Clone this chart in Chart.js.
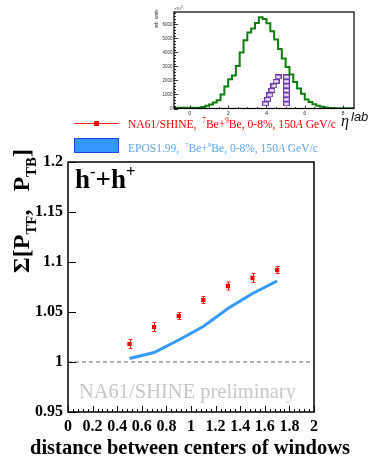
<!DOCTYPE html>
<html>
<head>
<meta charset="utf-8">
<script src="https://cdn.jsdelivr.net/npm/chart.js@4.4.1/dist/chart.umd.min.js"></script>
<style>
  html, body { margin: 0; padding: 0; background: #fff; }
  #wrap { position: relative; width: 370px; height: 457px; }
  #mainChart { position: absolute; left: 0; top: 0; }
  #etaChart { position: absolute; left: 150px; top: 0; }
</style>
</head>
<body>
<div id="wrap">
  <canvas id="mainChart" width="370" height="457"></canvas>
  <canvas id="etaChart" width="220" height="125"></canvas>
</div>
<script>
// main plot: distance between window centres vs Sigma
const windowDistance = [0.5, 0.7, 0.9, 1.1, 1.3, 1.5, 1.7];
const na61Sigma = [1.018, 1.035, 1.046, 1.062, 1.076, 1.084, 1.092];
const na61Error = [0.0045, 0.0045, 0.0035, 0.0035, 0.004, 0.0045, 0.0035];
const eposSigma = [1.0035, 1.0095, 1.022, 1.0355, 1.0535, 1.0685, 1.081];
const referenceLevel = 1;

// inset: eta_lab distribution (bin edges, counts) and window positions
const etaEdges = [-0.8, 0.6, 0.8, 1.0, 1.2, 1.4, 1.6, 1.8, 2.0, 2.2, 2.4, 2.6, 2.8, 3.0, 3.2, 3.4, 3.6, 3.8,
  4.0, 4.2, 4.4, 4.6, 4.8, 5.0, 5.2, 5.4, 5.6, 5.8, 6.0, 6.2, 6.4, 6.6, 6.8, 7.0, 7.2, 7.4, 7.6, 8.6];
const etaCounts = [10, 60, 100, 190, 280, 430, 590, 1000, 1560, 2080, 2360, 3030, 4000, 4870, 5410, 5700, 6100,
  6500, 6380, 6080, 5500, 4920, 4250, 3560, 2960, 2420, 1890, 1420, 1060, 640, 470, 300, 190, 120, 70, 40, 20];
const etaTicks = [0, 2, 4, 6, 8];
const countTicks = [0, 1000, 2000, 3000, 4000, 5000, 6000];
const windowLowEta = [3.95, 4.06, 4.17, 4.28, 4.39, 4.50, 4.61];
const windowHighEta = [5.04, 5.04, 5.04, 5.04, 5.04, 5.04, 5.04];
const windowLevel = [330, 650, 970, 1290, 1610, 1930, 2250];

const SERIF = '"Liberation Serif", "DejaVu Serif", serif';
const SANS = '"Liberation Sans", Arial, sans-serif';

function fmt(v) { return String(Math.round(v * 100) / 100); }

// draws text made of pieces: [text, kind] with kind '', 'sup', 'sub', 'it'
function drawRich(ctx, parts, x, y, size, weight, draw) {
  let cx = x;
  for (const [t, kind] of parts) {
    let s = size, dy = 0, style = '';
    if (kind === 'sup') { s = size * 0.62; dy = -size * 0.42; }
    if (kind === 'sub') { s = size * 0.62; dy = size * 0.3; }
    if (kind === 'it') style = 'italic ';
    ctx.font = style + (weight || 'normal') + ' ' + s + 'px ' + SERIF;
    if (draw !== false) ctx.fillText(t, cx, y + dy);
    cx += ctx.measureText(t).width;
  }
  return cx - x;
}

function fitRich(ctx, parts, weight, width) {
  const w = drawRich(ctx, parts, 0, 0, 20, weight, false);
  return 20 * width / w;
}

const legendNA61 = [['NA61/SHINE,  ', ''], ['7', 'sup'], ['Be+', ''], ['9', 'sup'], ['Be, 0-8%, 150', ''], ['A', 'it'], [' GeV/c', '']];
const legendEPOS = [['EPOS1.99,  ', ''], ['7', 'sup'], ['Be+', ''], ['9', 'sup'], ['Be, 0-8%, 150', ''], ['A', 'it'], [' GeV/c', '']];
const yTitle = [['\u03A3[P', ''], ['TF', 'sub'], [',   P', ''], ['TB', 'sub'], [']', '']];
const panelLabel = [['h', ''], ['-', 'sup'], ['+h', ''], ['+', 'sup']];

const mainDecor = {
  id: 'mainDecor',
  beforeDatasetsDraw(chart) {
    const { ctx, chartArea: a, scales: { x, y } } = chart;
    ctx.save();
    // dashed line at 1
    const yr = y.getPixelForValue(referenceLevel);
    ctx.strokeStyle = '#6a6a6a';
    ctx.lineWidth = 1;
    ctx.setLineDash([4, 3]);
    ctx.beginPath();
    ctx.moveTo(a.left, yr);
    ctx.lineTo(a.right, yr);
    ctx.stroke();
    ctx.setLineDash([]);
    // error bars
    ctx.strokeStyle = '#ff2020';
    windowDistance.forEach((d, i) => {
      const px = Math.round(x.getPixelForValue(d)) + 0.5;
      const lo = y.getPixelForValue(na61Sigma[i] - na61Error[i]);
      const hi = y.getPixelForValue(na61Sigma[i] + na61Error[i]);
      ctx.beginPath();
      ctx.moveTo(px, lo); ctx.lineTo(px, hi);
      ctx.moveTo(px - 2, lo); ctx.lineTo(px + 2, lo);
      ctx.moveTo(px - 2, hi); ctx.lineTo(px + 2, hi);
      ctx.stroke();
    });
    ctx.restore();
  },
  afterDraw(chart) {
    const { ctx, chartArea: a, scales: { x, y } } = chart;
    ctx.save();
    // frame
    ctx.strokeStyle = '#000';
    ctx.lineWidth = 1.5;
    ctx.strokeRect(a.left, a.top, a.right - a.left, a.bottom - a.top);
    // ticks, drawn inside the frame as in ROOT
    ctx.lineWidth = 1;
    ctx.beginPath();
    y.ticks.forEach(t => {
      const py = Math.round(y.getPixelForValue(t.value)) + 0.5;
      ctx.moveTo(a.left, py); ctx.lineTo(a.left + 8, py);
    });
    for (let v = x.min; v <= x.max + 1e-9; v += 0.04) {
      const px = Math.round(x.getPixelForValue(v)) + 0.5;
      const major = Math.abs(v / 0.2 - Math.round(v / 0.2)) < 1e-6;
      ctx.moveTo(px, a.bottom); ctx.lineTo(px, a.bottom - (major ? 6 : 3));
    }
    ctx.stroke();

    // h-+h+ label
    ctx.fillStyle = '#000';
    ctx.textBaseline = 'alphabetic';
    drawRich(ctx, panelLabel, 75, 188, 27, 'bold');

    // preliminary stamp
    ctx.fillStyle = '#c8c8c8';
    const prelim = [['NA61/SHINE preliminary', '']];
    drawRich(ctx, prelim, 79, 398, fitRich(ctx, prelim, 'normal', 217), 'normal');

    // x title
    ctx.fillStyle = '#000';
    const xt = [['distance between centers of windows', '']];
    drawRich(ctx, xt, 30, 454, fitRich(ctx, xt, 'bold', 320), 'bold');

    // y title, rotated
    ctx.save();
    const ys = Math.min(24, fitRich(ctx, yTitle, 'bold', 128));
    const yw = drawRich(ctx, yTitle, 0, 0, ys, 'bold', false);
    ctx.translate(29, 211);
    ctx.rotate(-Math.PI / 2);
    drawRich(ctx, yTitle, -yw / 2, 0, ys, 'bold');
    ctx.restore();

    // legend
    ctx.strokeStyle = '#ff2020';
    ctx.lineWidth = 1;
    ctx.beginPath();
    ctx.moveTo(74, 123.5); ctx.lineTo(119, 123.5);
    ctx.stroke();
    ctx.fillStyle = '#ff0000';
    ctx.fillRect(94, 121, 5, 5);
    drawRich(ctx, legendNA61, 128, 128, fitRich(ctx, legendNA61, 'normal', 208), 'normal');

    ctx.fillStyle = '#3399ff';
    ctx.fillRect(74, 138, 45, 15);
    ctx.strokeStyle = '#2040e0';
    ctx.strokeRect(74.5, 138.5, 44, 14);
    ctx.fillStyle = '#5aa8f5';
    drawRich(ctx, legendEPOS, 128, 152, fitRich(ctx, legendEPOS, 'normal', 190), 'normal');

    // eta^lab axis label of the inset
    ctx.fillStyle = '#111';
    ctx.font = 'italic 16px ' + SERIF;
    ctx.fillText('\u03B7', 341, 126);
    ctx.font = 'italic 13px ' + SANS;
    ctx.fillText('lab', 351, 121);
    ctx.restore();
  }
};

new Chart(document.getElementById('mainChart'), {
  type: 'scatter',
  data: {
    datasets: [
      {
        label: 'NA61/SHINE',
        data: windowDistance.map((d, i) => ({ x: d, y: na61Sigma[i] })),
        showLine: false,
        pointStyle: 'rect',
        pointRadius: 3,
        backgroundColor: '#ff0000',
        borderColor: '#ff0000',
        borderWidth: 0
      },
      {
        label: 'EPOS1.99',
        data: windowDistance.map((d, i) => ({ x: d, y: eposSigma[i] })),
        showLine: true,
        pointRadius: 0,
        borderColor: '#3399ff',
        borderWidth: 3,
        tension: 0
      }
    ]
  },
  options: {
    responsive: false,
    animation: false,
    events: [],
    layout: { padding: { top: 162, right: 56, left: 0, bottom: 0 } },
    plugins: { legend: { display: false }, tooltip: { enabled: false } },
    scales: {
      x: {
        type: 'linear', min: 0, max: 2,
        afterFit(s) { s.height = 45; },
        grid: { display: false, drawTicks: false },
        border: { display: false },
        ticks: {
          stepSize: 0.2, padding: 5, autoSkip: false, maxRotation: 0, color: '#000',
          font: { family: SERIF, size: 16, weight: 'bold' },
          callback: v => fmt(v)
        }
      },
      y: {
        type: 'linear', min: 0.95, max: 1.2,
        afterFit(s) { s.width = 68; },
        grid: { display: false, drawTicks: false },
        border: { display: false },
        ticks: {
          stepSize: 0.05, padding: 5, autoSkip: false, color: '#000',
          font: { family: SERIF, size: 16, weight: 'bold' },
          callback: v => fmt(v)
        }
      }
    }
  },
  plugins: [mainDecor]
});

// small rectangle glyph for the eta windows
const boxGlyph = document.createElement('canvas');
boxGlyph.width = 7;
boxGlyph.height = 5;
(function () {
  const g = boxGlyph.getContext('2d');
  g.fillStyle = 'rgba(255,255,255,0.9)';
  g.fillRect(0, 0, 7, 5);
  g.strokeStyle = '#6b3aa8';
  g.lineWidth = 1;
  g.strokeRect(0.5, 0.5, 6, 4);
  g.strokeStyle = '#c9b3e6';
  g.strokeRect(1.5, 1.5, 4, 2);
})();

const insetDecor = {
  id: 'insetDecor',
  afterDraw(chart) {
    const { ctx, chartArea: a, scales: { x, y } } = chart;
    ctx.save();
    ctx.strokeStyle = '#000';
    ctx.lineWidth = 1.2;
    ctx.strokeRect(a.left, a.top, a.right - a.left, a.bottom - a.top);
    ctx.lineWidth = 0.8;
    ctx.beginPath();
    for (let v = 0; v <= y.max; v += 200) {
      const py = Math.round(y.getPixelForValue(v)) + 0.5;
      ctx.moveTo(a.left, py); ctx.lineTo(a.left + (v % 1000 === 0 ? 4 : 2), py);
    }
    for (let v = -0.5; v <= x.max; v += 0.5) {
      const px = Math.round(x.getPixelForValue(v)) + 0.5;
      ctx.moveTo(px, a.bottom); ctx.lineTo(px, a.bottom - (Math.abs(v % 2) < 1e-6 ? 3 : 1.5));
    }
    ctx.stroke();
    ctx.fillStyle = '#333';
    ctx.font = '4px ' + SANS;
    ctx.fillText('\u00D710', a.left, a.top - 2);
    ctx.font = '3px ' + SANS;
    ctx.fillText('3', a.left + 7, a.top - 4);
    ctx.save();
    ctx.translate(8, 28);
    ctx.rotate(-Math.PI / 2);
    ctx.font = '4.5px ' + SANS;
    ctx.fillText('arb. units', 0, 0);
    ctx.restore();
    ctx.restore();
  }
};

new Chart(document.getElementById('etaChart'), {
  type: 'scatter',
  data: {
    datasets: [
      {
        label: 'eta',
        data: etaEdges.map((e, i) => ({ x: e, y: etaCounts[Math.min(i, etaCounts.length - 1)] })),
        showLine: true,
        stepped: 'after',
        pointRadius: 0,
        borderColor: '#0a800a',
        borderWidth: 2
      },
      {
        label: 'backward windows',
        data: windowLowEta.map((e, i) => ({ x: e, y: windowLevel[i] })),
        pointStyle: boxGlyph,
        pointRadius: 3
      },
      {
        label: 'forward windows',
        data: windowHighEta.map((e, i) => ({ x: e, y: windowLevel[i] })),
        pointStyle: boxGlyph,
        pointRadius: 3
      }
    ]
  },
  options: {
    responsive: false,
    animation: false,
    events: [],
    layout: { padding: { top: 12, right: 16, left: 0, bottom: 0 } },
    plugins: { legend: { display: false }, tooltip: { enabled: false } },
    scales: {
      x: {
        type: 'linear', min: -0.83, max: 8.57,
        afterFit(s) { s.height = 16.5; },
        afterBuildTicks(s) { s.ticks = etaTicks.map(v => ({ value: v })); },
        grid: { display: false, drawTicks: false },
        border: { display: false },
        ticks: {
          padding: 2, maxRotation: 0, color: '#333',
          font: { family: SANS, size: 5.5 },
          callback: v => String(v)
        }
      },
      y: {
        type: 'linear', min: 0, max: 6880,
        afterFit(s) { s.width = 24; },
        afterBuildTicks(s) { s.ticks = countTicks.map(v => ({ value: v })); },
        grid: { display: false, drawTicks: false },
        border: { display: false },
        ticks: {
          padding: 1.5, color: '#333',
          font: { family: SANS, size: 4.5 },
          callback: v => String(v)
        }
      }
    }
  },
  plugins: [insetDecor]
});
</script>
</body>
</html>
